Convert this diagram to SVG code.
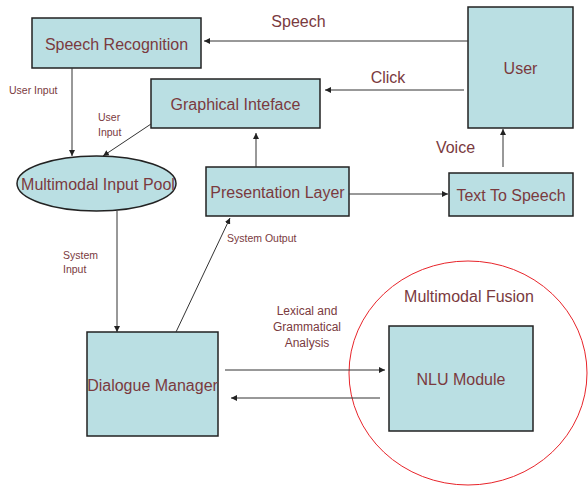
<svg xmlns="http://www.w3.org/2000/svg" width="588" height="486" viewBox="0 0 588 486">
<defs>
<marker id="ah" viewBox="0 0 10 10" refX="10" refY="5" markerWidth="6" markerHeight="6" orient="auto" markerUnits="userSpaceOnUse">
<path d="M0,0 L10,5 L0,10 z" fill="#222"/>
</marker>
</defs>
<style>
.box{fill:#BADFE3;stroke:#222;stroke-width:1.5}
.t{font-family:"Liberation Sans",Arial,sans-serif;fill:#7A3A3E}
.big{font-size:16px}
.sm{font-size:10.5px}
.md{font-size:12px}
.c{stroke:#333;stroke-width:1;fill:none;marker-end:url(#ah)}
</style>
<rect width="588" height="486" fill="#fff"/>
<g id="fusion">
<ellipse cx="468" cy="373" rx="119" ry="112" fill="none" stroke="#E8242A" stroke-width="1"/>
<text class="t big" x="469" y="302" text-anchor="middle">Multimodal Fusion</text>
</g>
<g id="speech-recognition">
<rect class="box" x="32" y="18" width="169" height="50"/>
<text class="t big" x="116.5" y="50" text-anchor="middle">Speech Recognition</text>
</g>
<g id="graphical-interface">
<rect class="box" x="151" y="79" width="169" height="49"/>
<text class="t big" x="235.5" y="110" text-anchor="middle">Graphical Inteface</text>
</g>
<g id="user">
<rect class="box" x="468" y="7" width="105" height="121"/>
<text class="t big" x="520.5" y="74" text-anchor="middle">User</text>
</g>
<g id="input-pool">
<ellipse class="box" cx="96.5" cy="183.5" rx="79.5" ry="27.5"/>
<text class="t big" x="98" y="190" text-anchor="middle">Multimodal Input Pool</text>
</g>
<g id="presentation-layer">
<rect class="box" x="206" y="167" width="143" height="49"/>
<text class="t big" x="277.5" y="198" text-anchor="middle">Presentation Layer</text>
</g>
<g id="text-to-speech">
<rect class="box" x="449" y="173" width="124" height="43"/>
<text class="t big" x="511" y="201" text-anchor="middle">Text To Speech</text>
</g>
<g id="dialogue-manager">
<rect class="box" x="87" y="332" width="131" height="104"/>
<text class="t big" x="152.5" y="391" text-anchor="middle">Dialogue Manager</text>
</g>
<g id="nlu-module">
<rect class="box" x="389" y="326" width="144" height="105"/>
<text class="t big" x="461" y="385" text-anchor="middle">NLU Module</text>
</g>
<g id="connectors">
<line class="c" x1="468" y1="41" x2="204" y2="41"/>
<line class="c" x1="464" y1="90" x2="325" y2="90"/>
<line class="c" x1="72" y1="68" x2="72" y2="156"/>
<line class="c" x1="151" y1="124" x2="103" y2="156"/>
<line class="c" x1="256" y1="167" x2="256" y2="133"/>
<line class="c" x1="349" y1="194" x2="448" y2="194"/>
<line class="c" x1="503" y1="167" x2="503" y2="129"/>
<line class="c" x1="117" y1="211" x2="117" y2="332"/>
<line class="c" x1="176" y1="332" x2="230" y2="218"/>
<line class="c" x1="225" y1="370" x2="385" y2="370"/>
<line class="c" x1="380" y1="398" x2="231" y2="398"/>
</g>
<g id="labels">
<text class="t big" x="298.5" y="27" text-anchor="middle">Speech</text>
<text class="t big" x="388" y="83" text-anchor="middle">Click</text>
<text class="t big" x="455.5" y="153" text-anchor="middle">Voice</text>
<text class="t sm" x="9" y="94">User Input</text>
<text class="t sm" x="98" y="121">User</text>
<text class="t sm" x="98" y="136">Input</text>
<text class="t sm" x="63" y="259">System</text>
<text class="t sm" x="63" y="273">Input</text>
<text class="t sm" x="227" y="242">System Output</text>
<text class="t md" x="307" y="315" text-anchor="middle">Lexical and</text>
<text class="t md" x="307" y="331" text-anchor="middle">Grammatical</text>
<text class="t md" x="307" y="347" text-anchor="middle">Analysis</text>
</g>
</svg>
